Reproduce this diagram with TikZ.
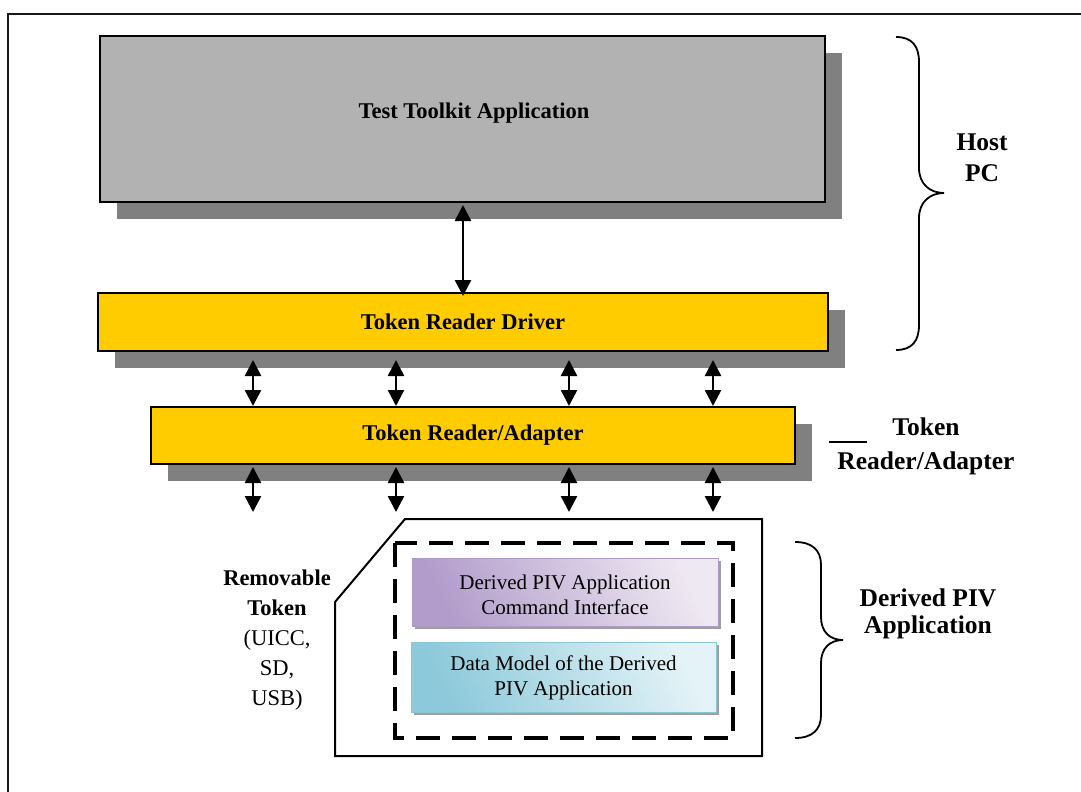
\documentclass[tikz,border=0pt]{standalone}
\usepackage{fontspec}
\setmainfont{Liberation Serif}
\usetikzlibrary{arrows.meta,shadows,calc}
\definecolor{boxgray}{HTML}{B2B2B2}
\definecolor{shgray}{HTML}{808080}
\definecolor{tokyellow}{HTML}{FFCC00}
\definecolor{purD}{HTML}{B29CCB}
\definecolor{purL}{HTML}{EEE8F2}
\definecolor{purE}{HTML}{AE9AC6}
\definecolor{cyaD}{HTML}{8CC9DA}
\definecolor{cyaL}{HTML}{E4F3F7}
\definecolor{cyaE}{HTML}{8AC4D6}
\begin{document}
\begin{tikzpicture}[x=1pt,y=-1pt,
  box/.style={draw=black, line width=2pt, rectangle, inner sep=0pt},
  bigshadow/.style={drop shadow={shadow xshift=17pt, shadow yshift=-17pt, fill=shgray, opacity=1}},
  smallshadow/.style={drop shadow={shadow xshift=3pt, shadow yshift=-3pt, fill=gray!75, opacity=1}},
  lbl/.style={font=\fontsize{22.5}{30}\selectfont\bfseries, align=center},
  side/.style={font=\fontsize{25.5}{31}\selectfont\bfseries, align=center},
  small/.style={font=\fontsize{21}{25}\selectfont, align=center},
  dbl/.style={{Triangle[length=16pt,width=16pt]}-{Triangle[length=16pt,width=16pt]}, line width=2.5pt},
  bracepath/.style={line width=1.8pt},
]
\useasboundingbox (0,0) rectangle (1081,792);
% outer frame (only top and left edges visible)
\draw[line width=2pt, draw=black!90] (8,792) -- (8,14) -- (1081,14);

% main boxes
\node[box, fill=boxgray, bigshadow, minimum width=725pt, minimum height=166pt] (tta) at (462.5,119) {};
\node[lbl] (ttal) at (474,113) {Test Toolkit Application};
\node[box, fill=tokyellow, bigshadow, minimum width=730pt, minimum height=58pt] (drv) at (463,322) {};
\node[lbl] (drvl) at (463,322) {Token Reader Driver};
\node[box, fill=tokyellow, bigshadow, minimum width=644pt, minimum height=57pt] (adp) at (473,435.5) {};
\node[lbl] (adpl) at (473,435.5) {Token Reader/Adapter};

% connector x positions
\coordinate (c1) at (253,0);
\coordinate (c2) at (396,0);
\coordinate (c3) at (569,0);
\coordinate (c4) at (713,0);
\coordinate (bt) at (0,512);

\draw[dbl] ($(tta.south -| drv.north)+(0,2)$) -- ($(drv.north)+(0,4)$);
\foreach \c in {c1,c2,c3,c4}{
  \draw[dbl] ($(drv.south -| \c)+(0,8)$) -- (adp.north -| \c);
  \draw[dbl] ($(adp.south -| \c)+(0,2)$) -- (bt -| \c);
}

% removable token card
\draw[line width=2pt] (335,756) -- (335,602) -- (405,519) -- (762,519) -- (762,756) -- cycle;
\draw[line width=4.5pt, dash pattern=on 24pt off 12pt] (395,543) rectangle (733,738);

\node[smallshadow, draw=purE, line width=1pt, left color=purD, right color=purL, shading angle=115,
      minimum width=306pt, minimum height=68pt, inner sep=0pt] (cmd) at (565,592) {};
\node[small] (cmdl) at (565,594.5) {Derived PIV Application\\Command Interface};
\node[smallshadow, draw=cyaE, line width=1pt, left color=cyaD, right color=cyaL, shading angle=115,
      minimum width=305pt, minimum height=70pt, inner sep=0pt] (dm) at (563.5,677) {};
\node[small] (dml) at (563.5,678) {Data Model of the Derived\\PIV Application};

\node[font=\fontsize{22.5}{30}\selectfont, align=center] (rt) at (277,640)
  {\textbf{Removable}\\\textbf{Token}\\(UICC,\\SD,\\USB)};

% side labels
\draw[bracepath] (896,37) .. controls (912,37) and (919,46) .. (919,62) -- (919,168)
  .. controls (919,184) and (930,193) .. (944,193)
  .. controls (930,193) and (919,202) .. (919,218) -- (919,325)
  .. controls (919,341) and (912,350) .. (896,350);
\node[side] (host) at (982,157.5) {Host\\PC};

\draw[line width=2pt] (829,442) -- (867,442);
\node[side, font=\fontsize{25.5}{34}\selectfont\bfseries] (tra) at (926,446) {Token\\Reader/Adapter};

\draw[bracepath] (795,542) .. controls (812,542) and (821,550) .. (821,565) -- (821,617)
  .. controls (821,632) and (830,640) .. (843,640)
  .. controls (830,640) and (821,648) .. (821,663) -- (821,715)
  .. controls (821,730) and (812,738) .. (795,738);
\node[side, font=\fontsize{25.5}{27}\selectfont\bfseries] (dpa) at (928,613.5) {Derived PIV\\Application};
\end{tikzpicture}
\end{document}
